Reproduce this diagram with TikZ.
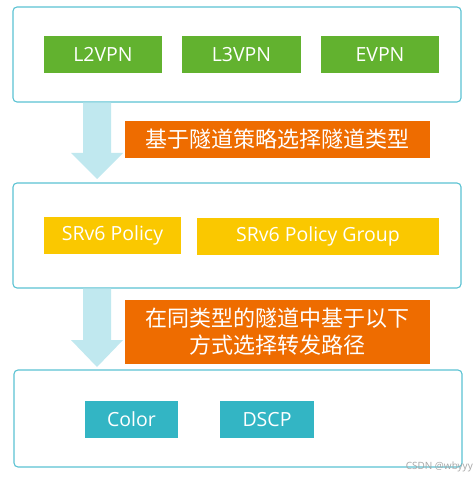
\documentclass[tikz,border=0pt]{standalone}
\usepackage{fontspec}
\setmainfont{Open Sans}
\newfontfamily\cjk{Noto Sans CJK SC}
\definecolor{frameC}{HTML}{5BC3D3}
\definecolor{greenC}{HTML}{62B22F}
\definecolor{orangeC}{HTML}{EE6C00}
\definecolor{yellowC}{HTML}{FAC800}
\definecolor{tealC}{HTML}{33B5C4}
\definecolor{arrowC}{HTML}{C0E8EF}
\begin{document}
\begin{tikzpicture}[x=1pt,y=-1pt,
  frame/.style={draw=frameC,line width=1.1pt,rounded corners=4pt,fill=white,inner sep=0pt},
  tag/.style={inner sep=0pt,text=white,font=\fontsize{19.5}{22}\selectfont,align=center},
  cn/.style={inner sep=0pt,fill=orangeC,text=white,font=\cjk\fontsize{22}{27}\selectfont,align=center}]
\useasboundingbox (0,0) rectangle (473,478);
\fill[white] (0,0) rectangle (473,478);
% frames
\node[frame,minimum width=448pt,minimum height=95pt] (box1) at (237,54.5) {};
\node[frame,minimum width=448pt,minimum height=105pt] (box2) at (237,235.5) {};
\node[frame,minimum width=448pt,minimum height=97pt] (box3) at (238,418.5) {};
% row 1
\node[tag,fill=greenC,minimum width=118pt,minimum height=37pt] (l2) at (103,54.5) {L2VPN};
\node[tag,fill=greenC,minimum width=119pt,minimum height=37pt] (l3) at (241.5,54.5) {L3VPN};
\node[tag,fill=greenC,minimum width=118pt,minimum height=37pt] (ev) at (380,54.5) {EVPN};
% row 2
\node[tag,fill=yellowC,minimum width=137pt,minimum height=37pt] (p) at (112.5,235.5) {SRv6 Policy};
\node[tag,fill=yellowC,minimum width=242pt,minimum height=37pt] (pg) at (318,236.5) {SRv6 Policy Group};
% row 3
\node[tag,fill=tealC,minimum width=93pt,minimum height=37pt] (c) at (131.5,419.5) {Color};
\node[tag,fill=tealC,minimum width=94pt,minimum height=37pt] (d) at (267,419.5) {DSCP};
% arrows
\fill[arrowC] (83,0 |- box1.south) -- (83,153) -- (71,153) -- (97,179) -- (123,153) -- (111,153) -- (111,0 |- box1.south) -- cycle;
\fill[arrowC] (83,0 |- box2.south) -- (83,340) -- (71,340) -- (97,367) -- (123,340) -- (111,340) -- (111,0 |- box2.south) -- cycle;
% orange labels
\node[cn,minimum width=305pt,minimum height=37pt] (o1) at (277.5,139.5) {基于隧道策略选择隧道类型};
\node[cn,minimum width=305pt,minimum height=64pt] (o2) at (277.5,332) {在同类型的隧道中基于以下\\方式选择转发路径};
% watermark
\node[anchor=east,inner sep=0pt,text=black!35,font=\fontsize{10}{11}\selectfont] (wm) at (473,467) {CSDN @wbyyy};
\end{tikzpicture}
\end{document}
